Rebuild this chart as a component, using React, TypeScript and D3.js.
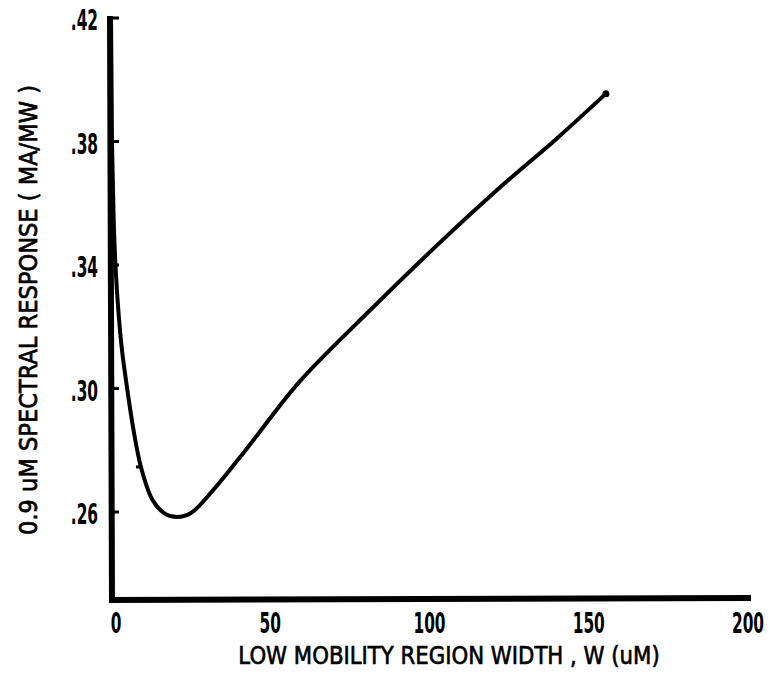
import React from 'react'
import * as d3 from 'd3'

// curve: width W (uM) vs spectral response (MA/MW)
const widths = [0, 0.3, 0.8, 1.5, 2.4, 3.5, 5, 7, 9.4, 13, 17, 20.7, 25, 32, 43, 59, 82, 103, 122, 140, 155.4]
const responses = [0.42, 0.38, 0.356, 0.338, 0.324, 0.312, 0.3005, 0.287, 0.2746, 0.264, 0.2594, 0.2584, 0.2596, 0.267, 0.281, 0.302, 0.326, 0.347, 0.365, 0.381, 0.3955]
const xTicks = [0, 50, 100, 150, 200]
const yTicks = [0.26, 0.3, 0.34, 0.38, 0.42]
const yTickLabels = ['.26', '.30', '.34', '.38', '.42']

const width = 770
const height = 676
const font = '"DejaVu Sans", sans-serif'
const squeeze = 0.53

const App = () => {
  const x = d3.scaleLinear().domain([0, 200]).range([111, 748])
  const y = d3.scaleLinear().domain([0.26, 0.42]).range([512, 18])
  const yBottom = 0.2315

  const data = widths.map((w, i) => ({ w, r: responses[i] }))
  const curve = d3.line<{ w: number; r: number }>()
    .x(d => x(d.w))
    .y(d => y(d.r))
    .curve(d3.curveCatmullRom.alpha(0.5))

  const last = data[data.length - 1]
  const tickPt = data[8]

  return (
    <svg width={width} height={height} style={{ position: 'fixed', left: 0, top: 0, background: '#fff' }}>
      {/* axes */}
      <line x1={x(0) - 1} y1={y(0.42) - 2} x2={x(0) + 1} y2={y(yBottom) + 3} stroke="#000" strokeWidth={6} />
      <line x1={x(0) - 2} y1={y(yBottom)} x2={x(200) + 3} y2={y(yBottom) - 2} stroke="#000" strokeWidth={6} />
      {yTicks.map(t => (
        <line key={t} x1={x(0)} x2={x(0) + 8} y1={y(t)} y2={y(t)} stroke="#000" strokeWidth={3} />
      ))}
      {yTicks.map((t, i) => (
        <text key={'l' + t} transform={`translate(98,${y(t) + 2}) scale(${squeeze},1)`} dy="0.36em"
          textAnchor="end" fontFamily={font} fontWeight="bold" fontSize={29}>
          {yTickLabels[i]}
        </text>
      ))}
      {xTicks.map(t => (
        <text key={t} transform={`translate(${x(t) + (t === 0 ? 5 : 0)},633) scale(${squeeze},1)`}
          textAnchor="middle" fontFamily={font} fontWeight="bold" fontSize={29}>
          {t}
        </text>
      ))}
      {/* curve */}
      <path d={curve(data) ?? ''} fill="none" stroke="#000" strokeWidth={4} strokeLinejoin="round" strokeLinecap="round" />
      <line x1={x(tickPt.w) - 5} x2={x(tickPt.w)} y1={y(tickPt.r)} y2={y(tickPt.r)} stroke="#000" strokeWidth={3} />
      <circle cx={x(last.w)} cy={y(last.r)} r={3.5} fill="#000" />
      {/* titles */}
      <text transform="translate(449,664) scale(0.85,1)" textAnchor="middle"
        fontFamily={font} fontSize={25} stroke="#000" strokeWidth={0.7}>
        LOW MOBILITY REGION WIDTH , W  (uM)
      </text>
      <text transform="translate(37,310) rotate(-90) scale(0.94,1)" textAnchor="middle"
        fontFamily={font} fontSize={24} stroke="#000" strokeWidth={0.7}>
        0.9 uM SPECTRAL RESPONSE ( MA/MW )
      </text>
    </svg>
  )
}

export default App
